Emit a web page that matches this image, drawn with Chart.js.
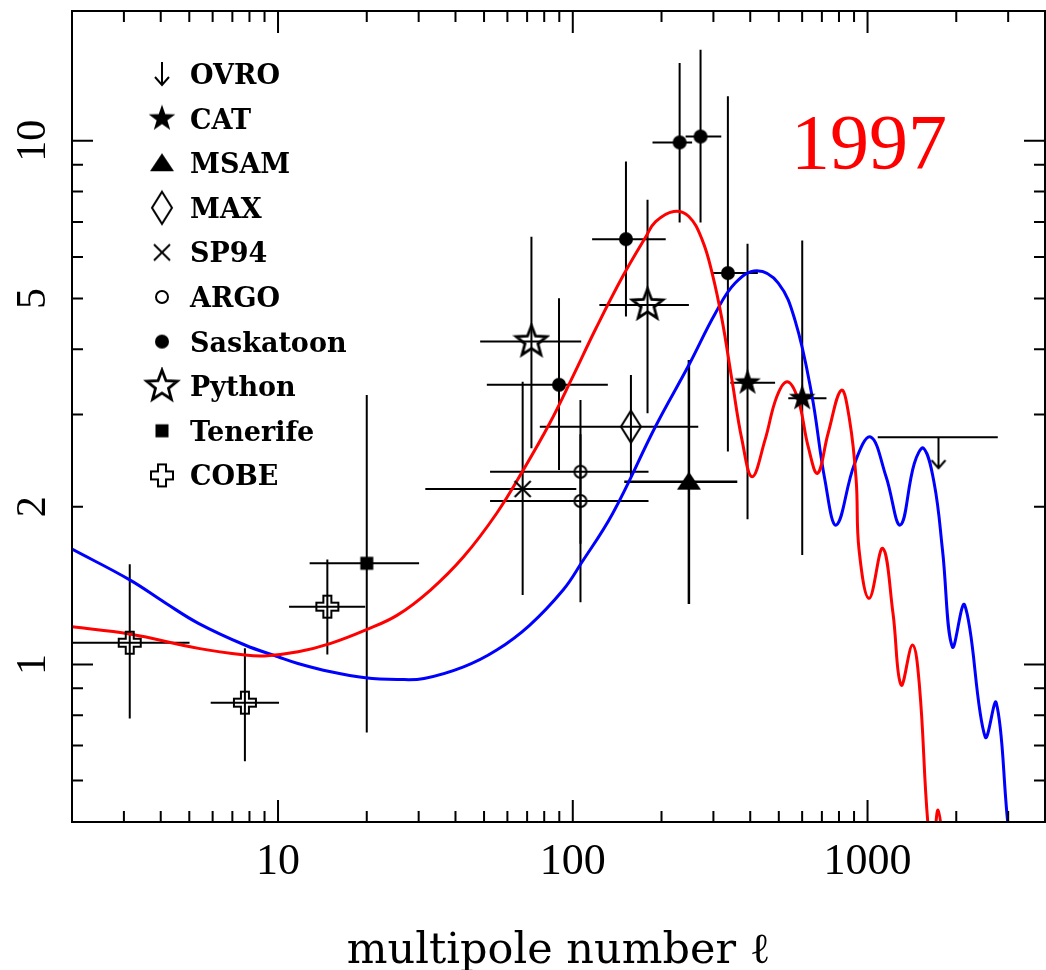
<!DOCTYPE html>
<html>
<head>
<meta charset="utf-8">
<script src="https://cdn.jsdelivr.net/npm/chart.js@4.4.1/dist/chart.umd.min.js"></script>
<style>
  html, body { margin: 0; padding: 0; background: #fff; overflow: hidden; }
  canvas { display: block; }
</style>
</head>
<body>
<canvas id="cmb" width="1052" height="970"></canvas>
<script>
// ---- axis ticks ----
const ellTicks = [10, 100, 1000];
const ellMinorTicks = [3, 4, 5, 6, 7, 8, 9, 20, 30, 40, 50, 60, 70, 80, 90,
                       200, 300, 400, 500, 600, 700, 800, 900, 2000, 3000];
const powerTicks = [1, 2, 5, 10];
const powerMajorTicks = [1, 10];
const powerMinorTicks = [0.6, 0.7, 0.8, 0.9, 2, 3, 4, 5, 6, 7, 8, 9];

// ---- model spectra (multipole, band power) ----
const redModelL = [2, 3.14, 5.37, 7.72, 9.0, 11.7, 15.1, 19.8, 25.4, 32.9, 42.6, 55.2, 67.9, 83.5,
  100, 120, 147.6, 177, 191, 220, 247.6, 274.8, 297, 321, 346.7, 375, 406, 449, 492, 535, 582,
  629, 677, 735, 815, 869, 915, 936, 1013, 1126, 1220, 1300, 1421, 1501, 1601, 1665, 1735, 1810];
const redModelV = [1.18, 1.143, 1.073, 1.042, 1.038, 1.057, 1.097, 1.163, 1.242, 1.387, 1.605,
  1.944, 2.35, 2.887, 3.545, 4.39, 5.505, 6.56, 7.01, 7.33, 7.17, 6.47, 5.59, 4.55, 3.495, 2.684,
  2.283, 2.684, 3.246, 3.467, 3.2, 2.605, 2.317, 2.764, 3.34, 2.93, 2.25, 1.654, 1.337, 1.666,
  1.252, 0.913, 1.089, 0.906, 0.5, 0.45, 0.527, 0.44];

const blueModelL = [2, 3.14, 4.15, 5.37, 7.72, 10, 11.68, 15.1, 19.8, 25.4, 31.3, 42.6, 55.2, 71.5,
  92.7, 106.8, 136.7, 191, 247.6, 304.6, 355.6, 421, 498, 567, 645.6, 716.8, 784, 904,
  1023, 1156, 1292, 1441, 1549, 1683, 1796, 1940, 2136, 2506, 2732, 2989, 3100];
const blueModelV = [1.66, 1.45, 1.31, 1.198, 1.089, 1.034, 1.004, 0.968, 0.943, 0.936, 0.940,
  0.989, 1.065, 1.189, 1.387, 1.56, 1.944, 2.85, 3.73, 4.685, 5.35, 5.65, 5.35, 4.55, 3.295,
  2.25, 1.846, 2.42, 2.72, 2.283, 1.846, 2.42, 2.587, 2.218, 1.654, 1.08, 1.298, 0.727, 0.845,
  0.5, 0.42];

// ---- band-power measurements: centre, multipole range, power range ----
const ovroL = [1740], ovroP = [2.716], ovroLlo = [1083], ovroLhi = [2766];

const catL = [391.6, 600.4], catP = [3.452, 3.224];
const catLlo = [342.4, 538.4], catLhi = [485.7, 725.6];
const catPlo = [1.893, 1.618], catPhi = [6.36, 6.45];

const msamL = [247.7], msamP = [2.234], msamLlo = [149.5], msamLhi = [361.5];
const msamPlo = [1.304], msamPhi = [3.815];

const maxL = [157.5], maxP = [2.845], maxLlo = [77.3], maxLhi = [266.5];
const maxPlo = [2.283], maxPhi = [3.57];

const sp94L = [67.6], sp94P = [2.163], sp94Llo = [31.6], sp94Lhi = [102.8];
const sp94Plo = [1.357], sp94Phi = [3.467];

const argoL = [106.2, 106.2], argoP = [2.333, 2.051];
const argoLlo = [52.4, 52.4], argoLhi = [180.7, 180.7];
const argoPlo = [1.7, 1.315], argoPhi = [3.2, 2.75];

const saskL = [89.8, 151.5, 230.4, 271.3, 335.9], saskP = [3.42, 6.49, 9.93, 10.19, 5.59];
const saskLlo = [51.1, 116.3, 186.4, 241.4, 297.8], saskLhi = [131.5, 206.7, 254, 319, 424.5];
const saskPlo = [2.35, 4.62, 6.98, 6.98, 2.55], saskPhi = [5.005, 9.13, 14.08, 14.93, 12.17];

const pythonL = [72.4, 179.3], pythonP = [4.136, 4.86];
const pythonLlo = [48.5, 123.1], pythonLhi = [106.8, 247.7];
const pythonPlo = [2.587, 3.017], pythonPhi = [6.56, 7.72];

const tenerifeL = [20], tenerifeP = [1.56], tenerifeLlo = [12.8], tenerifeLhi = [30.1];
const tenerifePlo = [0.741], tenerifePhi = [3.27];

const cobeL = [3.14, 7.72, 14.7], cobeP = [1.10, 0.845, 1.289];
const cobeLlo = [2.0, 5.91, 10.9], cobeLhi = [5.01, 10.08, 19.76];
const cobePlo = [0.788, 0.653, 1.045], cobePhi = [1.553, 1.073, 1.587];

// ---- marker glyphs ----
function glyph(w, h, draw) {
  const c = document.createElement('canvas');
  c.width = w; c.height = h;
  const g = c.getContext('2d');
  g.translate(w / 2, h / 2);
  g.strokeStyle = '#000'; g.fillStyle = '#000';
  g.lineJoin = 'miter';
  draw(g);
  return c;
}
function starPath(g, R, r) {
  g.beginPath();
  for (let k = 0; k < 10; k++) {
    const a = -Math.PI / 2 + k * Math.PI / 5;
    const rr = k % 2 ? r : R;
    g.lineTo(rr * Math.cos(a), rr * Math.sin(a));
  }
  g.closePath();
}
const mFilledCircle = glyph(18, 18, g => { g.beginPath(); g.arc(0, 0, 7, 0, 2 * Math.PI); g.fill(); });
const mOpenCircle = glyph(18, 18, g => { g.lineWidth = 2; g.beginPath(); g.arc(0, 0, 6, 0, 2 * Math.PI); g.stroke(); });
const mSquare = glyph(16, 16, g => { g.fillRect(-6.5, -6.5, 13, 13); });
const mTriangle = glyph(28, 24, g => {
  g.beginPath(); g.moveTo(0, -10); g.lineTo(12, 8); g.lineTo(-12, 8); g.closePath(); g.fill();
});
const mFilledStar = glyph(32, 32, g => { starPath(g, 14, 5.6); g.fill(); });
const mOpenStar = glyph(38, 38, g => { g.lineWidth = 2.8; starPath(g, 16, 6.8); g.stroke(); });
const mDiamond = glyph(26, 38, g => {
  g.lineWidth = 2; g.beginPath();
  g.moveTo(0, -16); g.lineTo(10, 0); g.lineTo(0, 16); g.lineTo(-10, 0); g.closePath(); g.stroke();
});
const mCrossRot = glyph(24, 24, g => {
  g.lineWidth = 2; g.beginPath();
  g.moveTo(-8, -8); g.lineTo(8, 8); g.moveTo(8, -8); g.lineTo(-8, 8); g.stroke();
});
const mOpenCross = glyph(28, 28, g => {
  const a = 11, b = 4;
  g.lineWidth = 2; g.beginPath();
  [[-b, -a], [b, -a], [b, -b], [a, -b], [a, b], [b, b], [b, a], [-b, a], [-b, b], [-a, b], [-a, -b], [-b, -b]]
    .forEach(([px, py], k) => k ? g.lineTo(px, py) : g.moveTo(px, py));
  g.closePath(); g.stroke();
});
// upper limit: arrow hangs below the measured level
const mLimitArrow = glyph(20, 70, g => {
  g.lineWidth = 2; g.beginPath();
  g.moveTo(0, 0); g.lineTo(0, 31);
  g.moveTo(-7, 23); g.lineTo(0, 31); g.lineTo(7, 23); g.stroke();
});
const mLegendArrow = glyph(20, 30, g => {
  g.lineWidth = 2; g.beginPath();
  g.moveTo(0, -12); g.lineTo(0, 11);
  g.moveTo(-7, 3); g.lineTo(0, 11); g.lineTo(7, 3); g.stroke();
});

function points(L, P) { return L.map((l, i) => ({ x: l, y: P[i] })); }

function experiment(label, L, P, Llo, Lhi, Plo, Phi, marker, legendIcon, barWidth) {
  return {
    label, data: points(L, P), showLine: false,
    pointStyle: marker, pointRadius: 6,
    errLlo: Llo, errLhi: Lhi, errPlo: Plo, errPhi: Phi,
    barWidth: barWidth || 2, legendIcon: legendIcon || marker
  };
}

const datasets = [
  experiment('OVRO', ovroL, ovroP, ovroLlo, ovroLhi, null, null, mLimitArrow, mLegendArrow, 2),
  experiment('CAT', catL, catP, catLlo, catLhi, catPlo, catPhi, mFilledStar, null, 2),
  experiment('MSAM', msamL, msamP, msamLlo, msamLhi, msamPlo, msamPhi, mTriangle, null, 2.5),
  experiment('MAX', maxL, maxP, maxLlo, maxLhi, maxPlo, maxPhi, mDiamond, null, 2),
  experiment('SP94', sp94L, sp94P, sp94Llo, sp94Lhi, sp94Plo, sp94Phi, mCrossRot, null, 2),
  experiment('ARGO', argoL, argoP, argoLlo, argoLhi, argoPlo, argoPhi, mOpenCircle, null, 2),
  experiment('Saskatoon', saskL, saskP, saskLlo, saskLhi, saskPlo, saskPhi, mFilledCircle, null, 2),
  experiment('Python', pythonL, pythonP, pythonLlo, pythonLhi, pythonPlo, pythonPhi, mOpenStar, null, 2),
  experiment('Tenerife', tenerifeL, tenerifeP, tenerifeLlo, tenerifeLhi, tenerifePlo, tenerifePhi, mSquare, null, 2),
  experiment('COBE', cobeL, cobeP, cobeLlo, cobeLhi, cobePlo, cobePhi, mOpenCross, null, 2),
  {
    label: 'model A', data: points(redModelL, redModelV), showLine: true, pointRadius: 0,
    borderColor: '#ff0000', borderWidth: 3, tension: 0.4, noLegend: true
  },
  {
    label: 'model B', data: points(blueModelL, blueModelV), showLine: true, pointRadius: 0,
    borderColor: '#0000ff', borderWidth: 3, tension: 0.4, noLegend: true
  }
];

// horizontal (multipole bin) and vertical (power) error bars
const errorBars = {
  id: 'errorBars',
  beforeDatasetsDraw(chart) {
    const { ctx, chartArea: a, scales: { x, y } } = chart;
    ctx.save();
    ctx.beginPath(); ctx.rect(a.left, a.top, a.right - a.left, a.bottom - a.top); ctx.clip();
    ctx.strokeStyle = '#000';
    chart.data.datasets.forEach(ds => {
      if (!ds.errLlo) return;
      ctx.lineWidth = ds.barWidth;
      ds.data.forEach((p, i) => {
        const px = x.getPixelForValue(p.x), py = y.getPixelForValue(p.y);
        ctx.beginPath();
        ctx.moveTo(x.getPixelForValue(ds.errLlo[i]), py);
        ctx.lineTo(x.getPixelForValue(ds.errLhi[i]), py);
        if (ds.errPlo) {
          ctx.moveTo(px, y.getPixelForValue(ds.errPhi[i]));
          ctx.lineTo(px, y.getPixelForValue(ds.errPlo[i]));
        }
        ctx.stroke();
      });
    });
    ctx.restore();
  }
};

// boxed frame with inward ticks on all sides, rotated power labels, legend and year
const frameAndLegend = {
  id: 'frameAndLegend',
  afterDraw(chart) {
    const { ctx, chartArea: a, scales: { x, y } } = chart;
    ctx.save();
    ctx.strokeStyle = '#000';
    ctx.lineWidth = 2;
    ctx.strokeRect(a.left, a.top, a.right - a.left, a.bottom - a.top);
    ctx.beginPath();
    const xTick = (v, len) => {
      const px = x.getPixelForValue(v);
      ctx.moveTo(px, a.bottom); ctx.lineTo(px, a.bottom - len);
      ctx.moveTo(px, a.top); ctx.lineTo(px, a.top + len);
    };
    const yTick = (v, len) => {
      const py = y.getPixelForValue(v);
      ctx.moveTo(a.left, py); ctx.lineTo(a.left + len, py);
      ctx.moveTo(a.right, py); ctx.lineTo(a.right - len, py);
    };
    ellTicks.forEach(v => xTick(v, 22));
    ellMinorTicks.forEach(v => xTick(v, 11));
    powerMajorTicks.forEach(v => yTick(v, 21));
    powerMinorTicks.forEach(v => yTick(v, 11));
    ctx.stroke();

    // power tick labels, reading upward
    ctx.fillStyle = '#000';
    ctx.font = '42px "Liberation Serif"';
    ctx.textAlign = 'center';
    ctx.textBaseline = 'alphabetic';
    powerTicks.forEach(v => {
      ctx.save();
      ctx.translate(45, y.getPixelForValue(v));
      ctx.rotate(-Math.PI / 2);
      ctx.fillText(String(v), 0, 0);
      ctx.restore();
    });

    // legend
    ctx.font = 'bold 27px "DejaVu Serif"';
    ctx.textAlign = 'left';
    ctx.textBaseline = 'alphabetic';
    let row = 0;
    chart.data.datasets.forEach(ds => {
      if (ds.noLegend) return;
      const cy = 74 + row * 44.6;
      const ic = ds.legendIcon;
      ctx.drawImage(ic, 162 - ic.width / 2, cy - ic.height / 2);
      ctx.fillText(ds.label, 190, cy + 10);
      row++;
    });

    // year
    ctx.fillStyle = '#ff0000';
    ctx.font = '78px "Liberation Serif"';
    ctx.fillText('1997', 791, 168);
    ctx.restore();
  }
};

new Chart(document.getElementById('cmb'), {
  type: 'scatter',
  data: { datasets },
  plugins: [errorBars, frameAndLegend],
  options: {
    responsive: false,
    animation: false,
    devicePixelRatio: 1,
    events: [],
    layout: { padding: { top: 11, right: 1, left: 0, bottom: 0 } },
    plugins: { legend: { display: false }, tooltip: { enabled: false } },
    scales: {
      x: {
        type: 'logarithmic', position: 'bottom', min: 2, max: 4000,
        grid: { display: false, drawTicks: false },
        border: { display: false },
        afterBuildTicks: s => { s.ticks = ellTicks.map(v => ({ value: v })); },
        afterFit: s => { s.height = 148; },
        ticks: {
          autoSkip: false, maxRotation: 0, padding: 14, color: '#000',
          font: { family: 'Liberation Serif', size: 44 },
          callback: v => String(v)
        },
        title: {
          display: true, text: 'multipole number ℓ', color: '#000',
          font: { family: 'DejaVu Serif', size: 43 },
          padding: { top: 0, bottom: -8 }
        }
      },
      y: {
        type: 'logarithmic', position: 'left', min: 0.5, max: 17.7,
        grid: { display: false, drawTicks: false },
        border: { display: false },
        ticks: { display: false },
        afterFit: s => { s.width = 72; }
      }
    }
  }
});
</script>
</body>
</html>
